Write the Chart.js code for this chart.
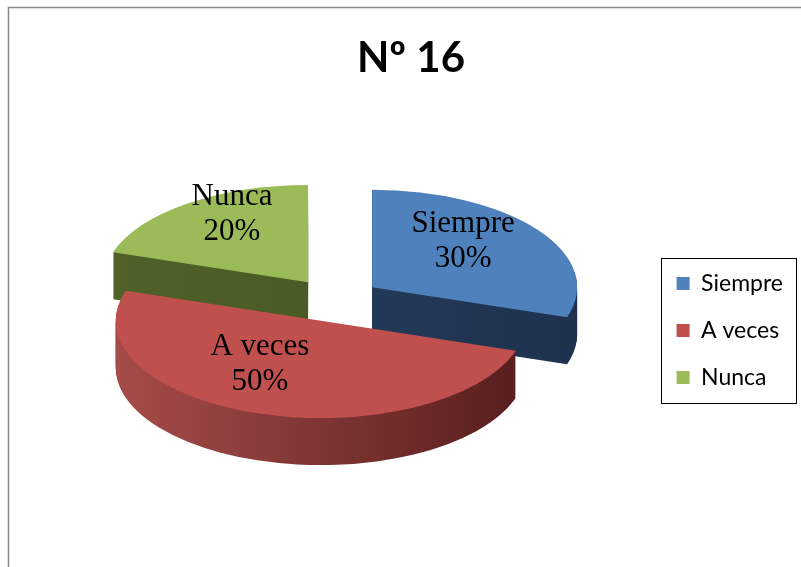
<!DOCTYPE html>
<html><head><meta charset="utf-8">
<style>html,body{margin:0;padding:0;background:#fff;overflow:hidden;} canvas{display:block;}</style>
<script src="https://cdn.jsdelivr.net/npm/chart.js@4.4.1/dist/chart.umd.min.js"></script>
</head><body>
<canvas id="c" width="801" height="567"></canvas>
<script>
// ---- data ----
const categories = ['Siempre', 'A veces', 'Nunca'];
const values = [30, 50, 20];
const titleText = 'Nº 16';

// ---- styles ----
const topColors = ['#4F81BD', '#C0504D', '#9BBB59'];
const sideColors = [['#253F61', '#1E324E'], ['#A64C4A', '#561E1D'], ['#50622A', '#445323']];

// 3D pie layout (screen pixels)
const PIE = { cx: 335, cy: 300, rx: 205, tilt: 0.475, depth: 47, explode: 0.224 };
const LABEL_SHIFT = [-13, 17.7, 9.3];   // degrees relative to slice mid-angle
const LABEL_R = [0.676, 0.509, 0.825];  // fraction of radius
const LABEL_FONT = "31px 'Liberation Serif', 'Times New Roman', serif";

const total = values.reduce((a, b) => a + b, 0);

function pieTransform(ctx, arc) {
  const R = arc.outerRadius, s = PIE.rx / R;
  ctx.translate(PIE.cx, PIE.cy);
  ctx.scale(s, s * PIE.tilt);
  ctx.translate(-arc.x, -arc.y);
  const mid = (arc.startAngle + arc.endAngle) / 2;
  ctx.translate(Math.cos(mid) * PIE.explode * R, Math.sin(mid) * PIE.explode * R);
}

function drawArcWith(arc, ctx, fill) {
  const proxy = Object.create(arc);
  proxy.options = Object.assign({}, arc.options, { backgroundColor: fill, borderWidth: 0, offset: 0 });
  arc.draw.call(proxy, ctx);
}

const framePlugin = {
  id: 'frame',
  beforeDraw(chart) {
    const ctx = chart.ctx;
    ctx.save();
    ctx.fillStyle = '#fff';
    ctx.fillRect(0, 0, chart.width, chart.height);
    ctx.strokeStyle = '#878787';
    ctx.lineWidth = 1.5;
    ctx.strokeRect(8.5, 7.5, chart.width + 50, chart.height + 50);
    ctx.restore();
  },
  afterDraw(chart) {
    const lg = chart.legend;
    if (!lg || !lg.legendHitBoxes.length) return;
    const hb = lg.legendHitBoxes;
    let l = Infinity, r = -Infinity, t = Infinity, b = -Infinity;
    hb.forEach(h => { l = Math.min(l, h.left); r = Math.max(r, h.left + h.width); t = Math.min(t, h.top); b = Math.max(b, h.top + h.height); });
    const ctx = chart.ctx;
    ctx.save();
    ctx.strokeStyle = '#000';
    ctx.lineWidth = 1;
    const L = Math.round(l - 16), T = Math.round(t - 14);
    ctx.strokeRect(L + 0.5, T + 0.5, Math.round(r + 13) - L, Math.round(b + 14) - T);
    ctx.restore();
  }
};

const pie3dPlugin = {
  id: 'pie3d',
  beforeDatasetsDraw(chart) {
    const ctx = chart.ctx;
    const arcs = chart.getDatasetMeta(0).data;
    // side walls: extruded layers from the bottom up
    for (let i = PIE.depth; i >= 1; i--) {
      arcs.forEach((arc, idx) => {
        ctx.save();
        ctx.translate(0, i);
        pieTransform(ctx, arc);
        const g = ctx.createLinearGradient(arc.x - arc.outerRadius, 0, arc.x + arc.outerRadius, 0);
        g.addColorStop(0, sideColors[idx][0]);
        g.addColorStop(1, sideColors[idx][1]);
        drawArcWith(arc, ctx, g);
        ctx.restore();
      });
    }
    // top faces
    arcs.forEach((arc, idx) => {
      ctx.save();
      pieTransform(ctx, arc);
      drawArcWith(arc, ctx, topColors[idx]);
      ctx.restore();
    });
    // labels
    ctx.save();
    ctx.font = LABEL_FONT;
    ctx.fillStyle = '#000';
    ctx.textAlign = 'center';
    ctx.textBaseline = 'alphabetic';
    arcs.forEach((arc, idx) => {
      const mid = (arc.startAngle + arc.endAngle) / 2;
      const sx = PIE.cx + PIE.rx * PIE.explode * Math.cos(mid);
      const sy = PIE.cy + PIE.rx * PIE.tilt * PIE.explode * Math.sin(mid);
      const a = mid + LABEL_SHIFT[idx] * Math.PI / 180;
      const x = sx + PIE.rx * LABEL_R[idx] * Math.cos(a);
      const y = sy + PIE.rx * PIE.tilt * LABEL_R[idx] * Math.sin(a);
      const pct = Math.round(values[idx] / total * 100) + '%';
      ctx.fillText(categories[idx], x, y - 5.5);
      ctx.fillText(pct, x, y + 29.5);
    });
    ctx.restore();
    return false;
  }
};

Chart.defaults.color = '#000';
new Chart(document.getElementById('c'), {
  type: 'pie',
  data: {
    labels: categories,
    datasets: [{ data: values, backgroundColor: topColors, borderWidth: 0 }]
  },
  options: {
    responsive: false,
    animation: false,
    layout: { padding: { left: 29, right: 8, top: 0, bottom: 154 } },
    plugins: {
      title: {
        display: true, text: titleText, color: '#000',
        font: { family: 'Lato', weight: 'bold', size: 42 },
        padding: { top: 33, bottom: 20 }
      },
      legend: {
        position: 'right',
        align: 'end',
        labels: {
          color: '#000', boxWidth: 13, boxHeight: 13, padding: 24,
          font: { family: 'Lato', size: 23 }
        }
      },
      tooltip: { enabled: false }
    }
  },
  plugins: [framePlugin, pie3dPlugin]
});
</script>
</body></html>
